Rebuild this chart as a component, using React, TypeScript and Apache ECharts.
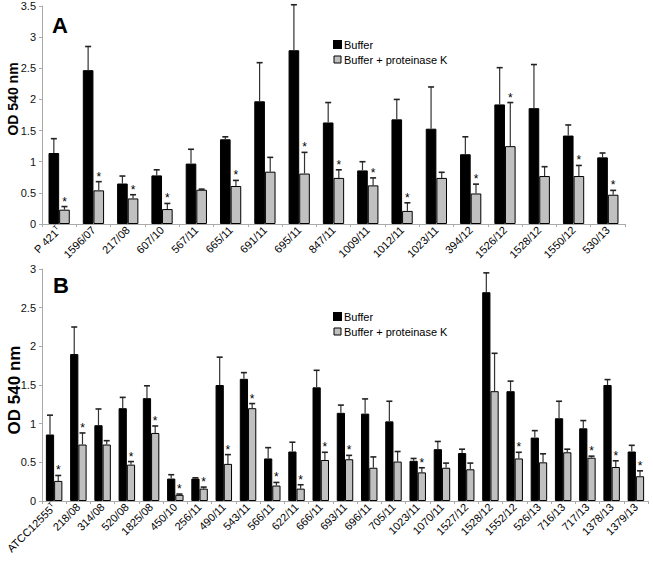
import React, { useEffect, useRef } from "react";
import * as echarts from "echarts";

const catsA = ["P 421T", "1596/07", "217/08", "607/10", "567/11", "665/11", "691/11", "695/11", "847/11", "1009/11", "1012/11", "1023/11", "394/12", "1526/12", "1528/12", "1550/12", "530/13"];
const bufferA = [1.14, 2.47, 0.65, 0.78, 0.97, 1.36, 1.97, 2.79, 1.63, 0.86, 1.68, 1.53, 1.12, 1.92, 1.86, 1.42, 1.07];
const bufferSdA = [0.23, 0.38, 0.12, 0.09, 0.23, 0.04, 0.62, 0.73, 0.32, 0.14, 0.32, 0.67, 0.28, 0.59, 0.70, 0.17, 0.07];
const protA = [0.23, 0.54, 0.41, 0.24, 0.55, 0.61, 0.84, 0.81, 0.74, 0.62, 0.21, 0.74, 0.49, 1.25, 0.77, 0.77, 0.47];
const protSdA = [0.05, 0.14, 0.06, 0.09, 0.01, 0.09, 0.23, 0.34, 0.13, 0.12, 0.13, 0.09, 0.15, 0.70, 0.15, 0.17, 0.07];
const starsA = [1, 1, 1, 1, 0, 1, 0, 1, 1, 1, 1, 0, 1, 1, 0, 1, 1];

const catsB = ["ATCC12555T", "218/08", "314/08", "520/08", "1825/08", "450/10", "256/11", "490/11", "543/11", "566/11", "622/11", "666/11", "693/11", "696/11", "705/11", "1023/11", "1070/11", "1527/12", "1528/12", "1552/12", "526/13", "716/13", "717/13", "1378/13", "1379/13"];
const bufferB = [0.86, 1.90, 0.98, 1.20, 1.33, 0.29, 0.29, 1.50, 1.58, 0.55, 0.64, 1.47, 1.14, 1.13, 1.03, 0.52, 0.67, 0.62, 2.70, 1.42, 0.82, 1.07, 0.94, 1.50, 0.64];
const bufferSdB = [0.25, 0.35, 0.21, 0.14, 0.16, 0.05, 0.01, 0.36, 0.08, 0.14, 0.12, 0.22, 0.10, 0.19, 0.26, 0.03, 0.10, 0.05, 0.25, 0.13, 0.09, 0.22, 0.10, 0.07, 0.08];
const protB = [0.26, 0.73, 0.73, 0.47, 0.88, 0.08, 0.16, 0.48, 1.20, 0.20, 0.16, 0.53, 0.54, 0.43, 0.51, 0.37, 0.43, 0.41, 1.42, 0.55, 0.50, 0.63, 0.56, 0.44, 0.32];
const protSdB = [0.07, 0.15, 0.05, 0.04, 0.09, 0.01, 0.02, 0.12, 0.06, 0.04, 0.05, 0.10, 0.05, 0.14, 0.13, 0.06, 0.06, 0.08, 0.49, 0.08, 0.11, 0.04, 0.02, 0.08, 0.07];
const starsB = [1, 1, 0, 1, 1, 1, 1, 1, 1, 1, 1, 1, 1, 0, 0, 1, 0, 0, 0, 1, 0, 0, 1, 1, 1];

const S1 = "Buffer";
const S2 = "Buffer + proteinase K";
const FONT = "Arial, 'Liberation Sans', sans-serif";

function errSeries(values: number[], sds: number[], stars: number[] | null, axis: number, side: number, pct: number) {
  const data = values.map((v, i) => [i, v, v + sds[i], stars ? stars[i] : 0]);
  return {
    type: "custom",
    xAxisIndex: axis,
    yAxisIndex: axis,
    z: 5,
    silent: true,
    encode: { x: 0, y: [1, 2] },
    data,
    renderItem: (params: any, api: any) => {
      const idx = api.value(0);
      const v = api.value(1);
      const top = api.value(2);
      const star = api.value(3);
      const catW = api.size([1, 0])[0];
      const bw = catW * pct;
      const p0 = api.coord([idx, v]);
      const p1 = api.coord([idx, top]);
      const x = p0[0] + side * bw / 2;
      const children: any[] = [
        { type: "line", shape: { x1: x, y1: p0[1], x2: x, y2: p1[1] }, style: { stroke: "#333", lineWidth: 1.2 } },
        { type: "line", shape: { x1: x - 3, y1: p1[1], x2: x + 3, y2: p1[1] }, style: { stroke: "#222", lineWidth: 1.6 } },
      ];
      if (star) {
        children.push({
          type: "text",
          x: x,
          y: p1[1] - 5,
          style: { text: "*", textAlign: "center", textVerticalAlign: "middle", font: `12px ${FONT}`, fill: "#000" },
        });
      }
      return { type: "group", children };
    },
  };
}

function xAxisFor(cats: string[], grid: number) {
  return {
    type: "category",
    gridIndex: grid,
    data: cats,
    axisLine: { lineStyle: { color: "#aaa", width: 1 } },
    axisTick: { show: true, length: 3, lineStyle: { color: "#aaa" } },
    axisLabel: {
      rotate: 45,
      interval: 0,
      margin: 4,
      fontSize: 11,
      fontFamily: FONT,
      color: "#000",
      formatter: (v: string) => (/T$/.test(v) && !/\//.test(v) ? v.slice(0, -1) + "{sup|T}" : v),
      rich: { sup: { fontSize: 7, fontFamily: FONT, color: "#000", verticalAlign: "top", padding: [0, 0, 6, 0] } },
    },
  };
}

function yAxisFor(max: number, grid: number) {
  return {
    type: "value",
    gridIndex: grid,
    min: 0,
    max,
    interval: 0.5,
    axisLine: { show: true, lineStyle: { color: "#aaa", width: 1 } },
    axisTick: { show: true, length: 3, lineStyle: { color: "#aaa" } },
    splitLine: { show: false },
    axisLabel: { fontSize: 11, fontFamily: FONT, color: "#111", margin: 6 },
  };
}

function bars(name: string, values: number[], axis: number, pct: number, color: string) {
  return {
    type: "bar",
    name,
    xAxisIndex: axis,
    yAxisIndex: axis,
    data: values,
    barWidth: `${pct * 100}%`,
    barGap: "0%",
    itemStyle: { color, borderColor: "#000", borderWidth: 1 },
    z: 2,
  };
}

function legendAt(left: number, top: number) {
  return {
    orient: "vertical",
    left,
    top,
    icon: "rect",
    itemWidth: 7,
    itemHeight: 7,
    itemGap: 4,
    selectedMode: false,
    data: [
      { name: S1, itemStyle: { color: "#000" } },
      { name: S2, itemStyle: { color: "#c0c0c0", borderColor: "#000", borderWidth: 1 } },
    ],
    textStyle: { fontSize: 11, fontFamily: FONT, color: "#000", padding: [0, 0, 0, -2] },
  };
}

export default function App() {
  const ref = useRef<HTMLDivElement>(null);
  useEffect(() => {
    document.body.style.margin = "0";
    const chart = echarts.init(ref.current!, null, { renderer: "svg" });
    const pA = 0.31;
    const pB = 0.34;
    chart.setOption({
      animation: false,
      backgroundColor: "#fff",
      grid: [
        { left: 42, right: 28, top: 6, height: 218 },
        { left: 42, right: 5, top: 269, height: 232 },
      ],
      legend: [legendAt(328, 34), legendAt(328, 306)],
      xAxis: [xAxisFor(catsA, 0), xAxisFor(catsB, 1)],
      yAxis: [yAxisFor(3.5, 0), yAxisFor(3, 1)],
      graphic: [
        { type: "text", left: 52, top: 14, style: { text: "A", font: `bold 22px ${FONT}`, fill: "#000" } },
        { type: "text", left: 53, top: 274, style: { text: "B", font: `bold 22px ${FONT}`, fill: "#000" } },
        { type: "text", x: 13, y: 99, rotation: Math.PI / 2, style: { text: "OD 540 nm", font: `bold 14px ${FONT}`, fill: "#000", textAlign: "center", textVerticalAlign: "middle" } },
        { type: "text", x: 14, y: 390, rotation: Math.PI / 2, style: { text: "OD 540 nm", font: `bold 17px ${FONT}`, fill: "#000", textAlign: "center", textVerticalAlign: "middle" } },
      ],
      series: [
        bars(S1, bufferA, 0, pA, "#000"),
        bars(S2, protA, 0, pA, "#c0c0c0"),
        bars(S1, bufferB, 1, pB, "#000"),
        bars(S2, protB, 1, pB, "#c0c0c0"),
        errSeries(bufferA, bufferSdA, null, 0, -1, pA),
        errSeries(protA, protSdA, starsA, 0, 1, pA),
        errSeries(bufferB, bufferSdB, null, 1, -1, pB),
        errSeries(protB, protSdB, starsB, 1, 1, pB),
      ],
    });
    return () => chart.dispose();
  }, []);
  return <div ref={ref} style={{ width: 653, height: 566 }} />;
}
